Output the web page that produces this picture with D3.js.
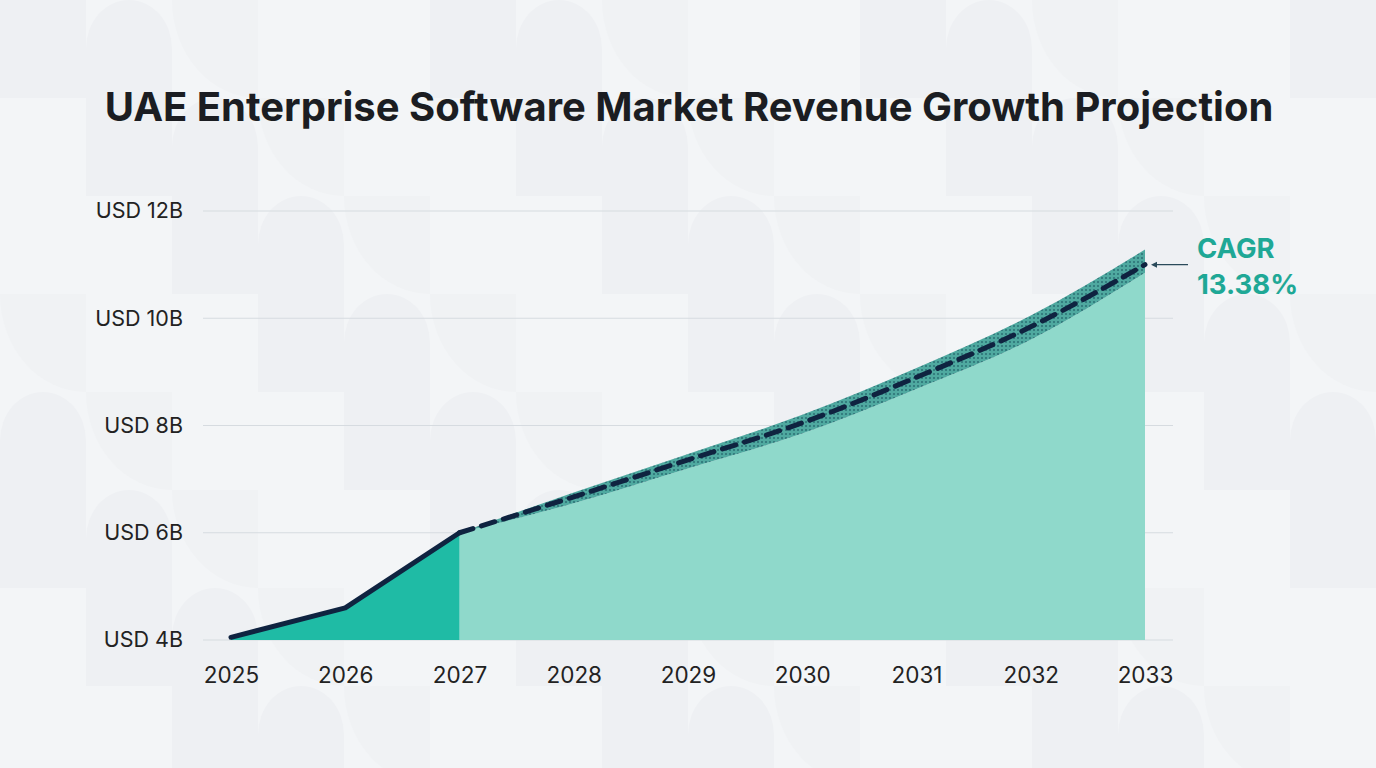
<!DOCTYPE html>
<html><head><meta charset="utf-8">
<script src="https://cdn.jsdelivr.net/npm/d3@7"></script>
<style>body{margin:0;background:#f3f5f7;}svg{display:block;font-family:Inter,"Noto Sans",sans-serif;}</style>
</head><body><div id="chart"></div>
<script>
// historical values (USD B)
var histYears = [2025, 2026, 2027];
var histValues = [4.05, 4.6, 6.0];
// projection
var projYears = [2027, 2028, 2029, 2030, 2031, 2032, 2033];
var projValues = [6.0, 6.67, 7.36, 8.05, 8.9, 9.84, 11.0];
var projHigh = [6.0, 6.75, 7.47, 8.2, 9.07, 10.05, 11.28];
var projLow = [6.0, 6.55, 7.2, 7.85, 8.68, 9.6, 10.85];
var yTicks = [4, 6, 8, 10, 12];
var xTicks = [2025, 2026, 2027, 2028, 2029, 2030, 2031, 2032, 2033];
var cagrLabel = ["CAGR", "13.38%"];

var W = 1376, H = 768;
var svg = d3.select("#chart").append("svg").attr("width", W).attr("height", H);

// background pattern
var bg = svg.append("g");
bg.append("rect").attr("width", W).attr("height", H).attr("fill", "#f3f5f7");
for (var i = 0; i < 16; i++) {
    for (var j = 0; j < 8; j++) {
        var k = (i * 7 + j * 3) % 5;
        var x0 = i * 86, y0 = j * 98;
        if (k === 0) bg.append("rect").attr("x", x0).attr("y", y0).attr("width", 86).attr("height", 98).attr("fill", "#eef0f3");
        else if (k === 2) bg.append("path").attr("d", "M" + x0 + "," + (y0 + 98) + " v-49 a43,49 0 0 1 86,0 v49 z").attr("fill", "#eef0f3");
        else if (k === 4) bg.append("path").attr("d", "M" + x0 + "," + y0 + " h86 v98 a86,98 0 0 1 -86,-98 z").attr("fill", "#f0f2f4");
    }
}

svg.append("text").attr("x", W / 2 + 1).attr("y", 121).attr("text-anchor", "middle")
    .attr("font-size", 40).attr("font-weight", 700).attr("fill", "#1b1d22")
    .text("UAE Enterprise Software Market Revenue Growth Projection");

var x = d3.scaleLinear().domain([2025, 2033]).range([231, 1145]);
var y = d3.scaleLinear().domain([4, 12]).range([640, 211]);

var grid = svg.append("g");
grid.selectAll("line").data(yTicks).enter().append("line")
    .attr("x1", 203).attr("x2", 1173).attr("y1", d => y(d)).attr("y2", d => y(d))
    .attr("stroke", "#d6dbe0").attr("stroke-width", 1.2);

var yAxis = svg.append("g").attr("transform", "translate(186,0)")
    .call(d3.axisLeft(y).tickValues(yTicks).tickSize(0).tickFormat(d => "USD " + d + "B"));
yAxis.select(".domain").remove();
yAxis.selectAll("text").attr("font-size", 21.5).attr("fill", "#222").attr("font-family", "Inter,sans-serif");

var xAxis = svg.append("g").attr("transform", "translate(0,660)")
    .call(d3.axisBottom(x).tickValues(xTicks).tickSize(0).tickFormat(d3.format("d")));
xAxis.select(".domain").remove();
xAxis.selectAll("text").attr("font-size", 22.5).attr("fill", "#222").attr("dy", "0.9em").attr("font-family", "Inter,sans-serif");

// dotted pattern for band
var defs = svg.append("defs");
var pat = defs.append("pattern").attr("id", "dots").attr("width", 4).attr("height", 4).attr("patternUnits", "userSpaceOnUse");
pat.append("rect").attr("width", 4).attr("height", 4).attr("fill", "#4fa9a0");
pat.append("circle").attr("cx", 2).attr("cy", 2).attr("r", 1).attr("fill", "#2a6f74");

var curve = d3.curveMonotoneX;
var proj = projYears.map((d, i) => ({ x: d, v: projValues[i], hi: projHigh[i], lo: projLow[i] }));
var hist = histYears.map((d, i) => ({ x: d, v: histValues[i] }));

svg.append("path").datum(proj)
    .attr("d", d3.area().curve(curve).x(d => x(d.x)).y0(y(4)).y1(d => y(d.lo)))
    .attr("fill", "#8fd9cb");
svg.append("path").datum(proj)
    .attr("d", d3.area().curve(curve).x(d => x(d.x)).y0(d => y(d.lo)).y1(d => y(d.hi)))
    .attr("fill", "url(#dots)");
svg.append("path").datum(hist)
    .attr("d", d3.area().x(d => x(d.x)).y0(y(4)).y1(d => y(d.v)))
    .attr("fill", "#1fbba5");
svg.append("path").datum(hist)
    .attr("d", d3.line().x(d => x(d.x)).y(d => y(d.v)))
    .attr("fill", "none").attr("stroke", "#0f2340").attr("stroke-width", 5).attr("stroke-linejoin", "round").attr("stroke-linecap", "round");
svg.append("path").datum(proj)
    .attr("d", d3.line().curve(curve).x(d => x(d.x)).y(d => y(d.v)))
    .attr("fill", "none").attr("stroke", "#0f2340").attr("stroke-width", 5).attr("stroke-dasharray", "14,9").attr("stroke-linecap", "round");

// CAGR annotation
var last = proj[proj.length - 1];
svg.append("line").attr("x1", x(last.x) + 8).attr("x2", 1188).attr("y1", y(last.v)).attr("y2", y(last.v))
    .attr("stroke", "#2a4a5a").attr("stroke-width", 1.2);
svg.append("path").attr("d", "M" + (x(last.x) + 6) + "," + y(last.v) + " l6,-3 v6 z").attr("fill", "#2a4a5a");
svg.append("text").attr("x", 1197).attr("y", 258).attr("font-size", 27.5).attr("font-weight", 700).attr("fill", "#1fa896").text(cagrLabel[0]);
svg.append("text").attr("x", 1197).attr("y", 294).attr("font-size", 27.5).attr("font-weight", 700).attr("fill", "#1fa896").text(cagrLabel[1]);
</script></body></html>
